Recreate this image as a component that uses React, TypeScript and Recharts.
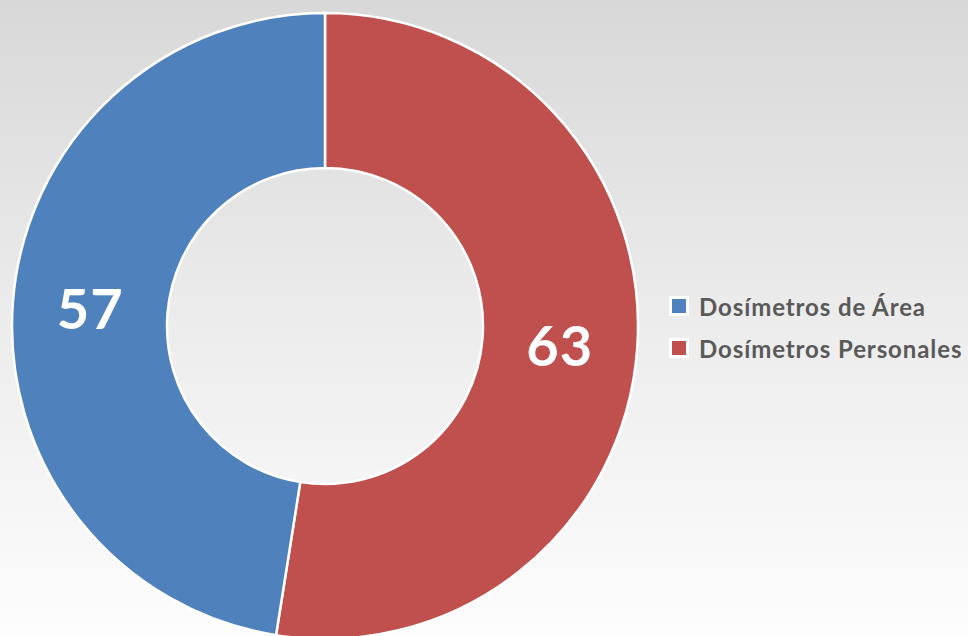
import { Cell, Legend, Pie, PieChart } from "recharts";

const CATEGORIES = ["Dosímetros Personales", "Dosímetros de Área"];
const VALUES = [63, 57];
const COLORS = ["#C0504D", "#4F81BD"];
// legend shows Área first
const LEGEND_ORDER = [1, 0];

const data = CATEGORIES.map((name, i) => ({ name, value: VALUES[i] }));

const RADIAN = Math.PI / 180;

function renderLabel(props: any) {
  const { cx, cy, midAngle, innerRadius, outerRadius, value } = props;
  const r = (innerRadius + outerRadius) / 2;
  const x = cx + r * Math.cos(-midAngle * RADIAN);
  const y = cy + r * Math.sin(-midAngle * RADIAN);
  return (
    <text
      x={x}
      y={y}
      fill="#ffffff"
      textAnchor="middle"
      dominantBaseline="central"
      fontFamily="Lato, 'Open Sans', sans-serif"
      fontWeight={700}
      fontSize={56}
      letterSpacing={1}
    >
      {value}
    </text>
  );
}

function LegendBox() {
  return (
    <div style={{ fontFamily: "Lato, 'Open Sans', sans-serif" }}>
      {LEGEND_ORDER.map((i) => (
        <div
          key={CATEGORIES[i]}
          style={{ display: "flex", alignItems: "center", height: 42 }}
        >
          <span
            style={{
              width: 14,
              height: 14,
              background: COLORS[i],
              border: "3px solid #ffffff",
              marginRight: 10,
            }}
          />
          <span
            style={{
              color: "#595959",
              fontWeight: 700,
              fontSize: 24,
              letterSpacing: 0.9,
            }}
          >
            {CATEGORIES[i]}
          </span>
        </div>
      ))}
    </div>
  );
}

export default function App() {
  return (
    <div
      style={{
        width: 968,
        height: 636,
        overflow: "hidden",
        background: "linear-gradient(to bottom, #d8d8d8 0%, #ececec 50%, #fdfdfd 100%)",
      }}
    >
      <style>{`body{margin:0}`}</style>
      <PieChart width={968} height={636} margin={{ top: 0, right: 0, bottom: 0, left: 0 }}>
        <Pie
          data={data}
          dataKey="value"
          nameKey="name"
          cx={325}
          cy={326}
          innerRadius={158}
          outerRadius={313}
          startAngle={90}
          endAngle={-270}
          stroke="#ffffff"
          strokeWidth={2.5}
          label={renderLabel}
          labelLine={false}
          isAnimationActive={false}
        >
          {data.map((d, i) => (
            <Cell key={d.name} fill={COLORS[i]} />
          ))}
        </Pie>
        <Legend
          layout="vertical"
          content={<LegendBox />}
          wrapperStyle={{ left: 669, top: 285, width: 299 }}
        />
      </PieChart>
    </div>
  );
}
